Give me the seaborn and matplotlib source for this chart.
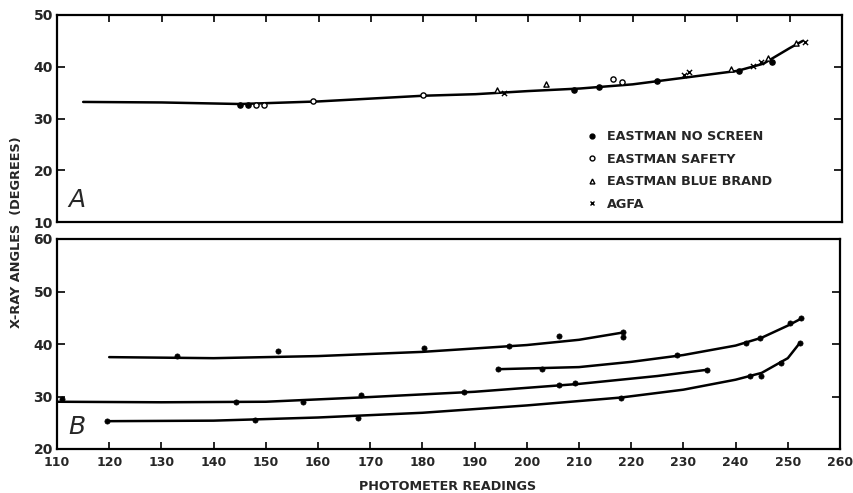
import pandas as pd
import matplotlib.pyplot as plt
import seaborn as sns
from matplotlib.lines import Line2D

# ---- panel A: one curve for all film brands ----
a_curve_x = [115, 130, 145, 160, 180, 190, 200, 210, 220, 230, 240, 245, 250, 252.5]
a_curve_y = [33.2, 33.1, 32.8, 33.3, 34.4, 34.7, 35.3, 35.8, 36.6, 37.9, 39.2, 40.6, 43.6, 45.0]

no_screen_x = [145, 146.5, 208.7, 213.5, 224.6, 240.4, 246.7]
no_screen_y = [32.7, 32.7, 35.6, 36.0, 37.2, 39.1, 41.0]
safety_x = [148, 149.5, 159, 180, 216.3, 218]
safety_y = [32.7, 32.7, 33.4, 34.6, 37.6, 37.0]
blue_x = [194, 203.5, 238.8, 245.8, 251.3]
blue_y = [35.5, 36.6, 39.5, 41.7, 44.6]
agfa_x = [195.5, 229.8, 230.8, 242.9, 244.6, 252.9]
agfa_y = [35.0, 38.5, 38.9, 40.1, 41.0, 44.8]

legend_labels = ["EASTMAN NO SCREEN", "EASTMAN SAFETY", "EASTMAN BLUE BRAND", "AGFA"]

# ---- panel B: four separate curves ----
b1_x = [120, 130, 140, 160, 180, 200, 210, 218.5]
b1_y = [37.5, 37.4, 37.3, 37.7, 38.5, 39.8, 40.8, 42.2]
b1_px = [133, 152.3, 180.4, 196.5, 206.2, 218.5, 218.5]
b1_py = [37.7, 38.7, 39.2, 39.6, 41.5, 42.3, 41.3]

b2_x = [194.4, 210, 220, 230, 240, 245, 250, 252.5]
b2_y = [35.2, 35.6, 36.6, 37.9, 39.7, 41.2, 43.5, 44.8]
b2_px = [194.4, 202.9, 228.8, 241.9, 244.6, 250.4, 252.5]
b2_py = [35.2, 35.3, 37.9, 40.2, 41.1, 44.0, 44.9]

b3_x = [110, 130, 150, 170, 190, 210, 225, 234.6]
b3_y = [29.0, 28.9, 29.0, 29.9, 30.9, 32.4, 33.9, 35.1]
b3_px = [111, 144.2, 157.1, 168.3, 188, 206.2, 209.3, 234.6]
b3_py = [29.5, 29.0, 28.9, 30.3, 30.9, 32.2, 32.6, 35.1]

b4_x = [119.6, 140, 160, 180, 200, 218, 230, 240, 245, 250, 252.3]
b4_y = [25.3, 25.4, 26.0, 26.9, 28.3, 29.8, 31.3, 33.2, 34.5, 37.3, 40.2]
b4_px = [119.6, 148, 167.7, 218.1, 242.7, 244.8, 248.7, 252.3]
b4_py = [25.3, 25.5, 25.9, 29.7, 33.9, 33.9, 36.4, 40.2]

x_ticks = list(range(110, 261, 10))
x_tick_labels = [str(t) for t in x_ticks]

sns.set_style("white")
plt.rcParams['font.family'] = ['DejaVu Sans']

fig = plt.figure(figsize=(8.54, 4.93), dpi=100)
axA = fig.add_axes([57 / 854, 1 - 222 / 493, 785 / 854, 207 / 493])
axB = fig.add_axes([57 / 854, 1 - 449 / 493, 783 / 854, 210 / 493])

lw = 1.8
tick_font = dict(fontsize=10, fontweight='bold')

# panel A
sns.lineplot(x=a_curve_x, y=a_curve_y, ax=axA, color='black', lw=lw, sort=False, estimator=None)
markers = ['o', 'o', '^', 'x']
faces = ['black', 'white', 'white', 'black']
groups = [(no_screen_x, no_screen_y), (safety_x, safety_y), (blue_x, blue_y), (agfa_x, agfa_y)]
for (gx, gy), m, fc in zip(groups, markers, faces):
    sns.scatterplot(x=gx, y=gy, ax=axA, marker=m, s=14, color=fc, edgecolor='black',
                    linewidth=1.0, zorder=3)

handles = [Line2D([], [], ls='none', marker=m, markersize=3.5, markerfacecolor=fc,
                  markeredgecolor='black', color='black', markeredgewidth=1.0)
           for m, fc in zip(markers, faces)]
leg = axA.legend(handles, legend_labels, loc='upper left', bbox_to_anchor=(0.668, 0.475),
                 frameon=False, handlelength=0.6, handletextpad=0.9, labelspacing=0.75,
                 prop=dict(size=9.2, weight='bold'), borderpad=0)

axA.set_xlim(110, 260)
axA.set_ylim(10, 50)
axA.set_yticks([10, 20, 30, 40, 50])
axA.set_yticklabels(['10', '20', '30', '40', '50'], **tick_font)
axA.set_xticks(x_ticks)
axA.tick_params(axis='x', which='both', top=True, bottom=False, labelbottom=False,
                direction='in', length=5, width=1.2, color='black')
axA.tick_params(axis='y', which='both', left=True, right=True, direction='in',
                length=6, width=1.2, color='black', pad=3)
axA.text(0.015, 0.05, 'A', transform=axA.transAxes, fontsize=18, style='italic',
         ha='left', va='bottom')

# panel B
for cx, cy, px, py in [(b1_x, b1_y, b1_px, b1_py), (b2_x, b2_y, b2_px, b2_py),
                       (b3_x, b3_y, b3_px, b3_py), (b4_x, b4_y, b4_px, b4_py)]:
    sns.lineplot(x=cx, y=cy, ax=axB, color='black', lw=lw, sort=False, estimator=None)
    sns.scatterplot(x=px, y=py, ax=axB, marker='o', s=14, color='black',
                    edgecolor='black', linewidth=0.5, zorder=3)

axB.set_xlim(110, 260)
axB.set_ylim(20, 60)
axB.set_yticks([20, 30, 40, 50, 60])
axB.set_yticklabels(['20', '30', '40', '50', '60'], **tick_font)
axB.set_xticks(x_ticks)
axB.set_xticklabels(x_tick_labels, fontsize=9, fontweight='bold')
axB.tick_params(axis='x', which='both', bottom=True, top=False, direction='in',
                length=5, width=1.2, color='black', pad=5)
axB.tick_params(axis='y', which='both', left=True, right=True, direction='in',
                length=6, width=1.2, color='black', pad=3)
axB.text(0.015, 0.05, 'B', transform=axB.transAxes, fontsize=18, style='italic',
         ha='left', va='bottom')

for ax in (axA, axB):
    for sp in ax.spines.values():
        sp.set_visible(True)
        sp.set_color('black')
        sp.set_linewidth(1.6)
    ax.set_xlabel('')
    ax.set_ylabel('')

fig.text(17 / 854, 1 - 232 / 493, 'X-RAY ANGLES  (DEGREES)', rotation=90,
         ha='center', va='center', fontsize=9.3, fontweight='bold')
fig.text(448 / 854, 1 - 486 / 493, 'PHOTOMETER READINGS', ha='center', va='center',
         fontsize=9.2, fontweight='bold')

fig.savefig('out.png', dpi=100, facecolor='white')
